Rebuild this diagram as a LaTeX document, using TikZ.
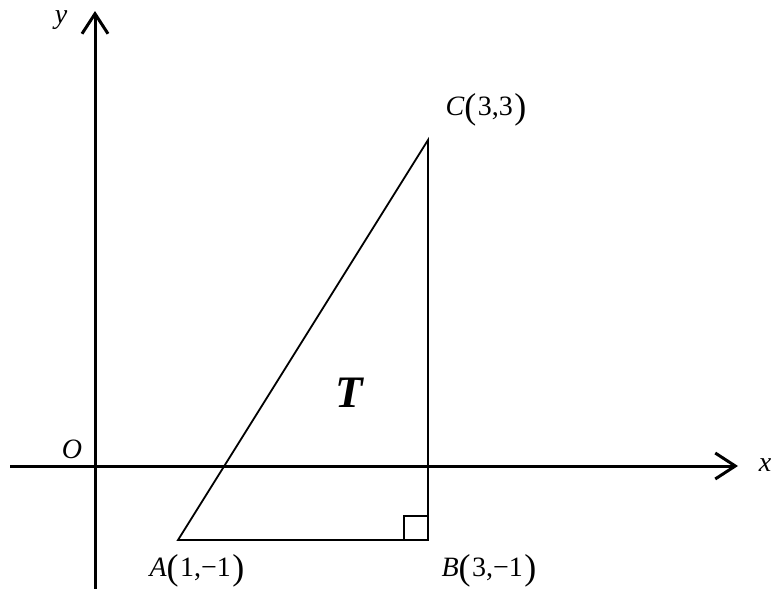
\documentclass[tikz,border=0pt]{standalone}
\usepackage{fontspec}
\setmainfont{Liberation Serif}
\usetikzlibrary{arrows.meta}
\newcommand{\bigp}[1]{\raisebox{-0.12em}{\fontsize{36}{36}\selectfont (}\kern1.5pt#1\kern1.5pt\raisebox{-0.12em}{\fontsize{36}{36}\selectfont )}}
\begin{document}
\begin{tikzpicture}[x=1pt,y=-1pt,
  axis/.style={line width=3pt,-{Straight Barb[length=20pt,width=26pt,line width=3pt]}},
  tri/.style={line width=1.8pt},
  lbl/.style={font=\fontsize{28}{30}\selectfont, inner sep=0pt}]
\useasboundingbox (0,0) rectangle (774,589);
\coordinate (xs) at (10,466);
\coordinate (xe) at (738,466);
\coordinate (ys) at (95,589);
\coordinate (ye) at (95,11);
\draw[axis] (xs) -- (xe);
\draw[axis] (ys) -- (ye);
\coordinate (A) at (178,540);
\coordinate (B) at (428,540);
\coordinate (C) at (428,140);
\draw[tri, line join=miter] (A) -- (B) -- (C) -- cycle;
\draw[line width=1.5pt] (404,540) -- (404,516) -- (428,516);
\node[lbl] (lA) at (197,571) {\textit{A}\bigp{1,−1}};
\node[lbl] (lB) at (489,571) {\textit{B}\bigp{3,−1}};
\node[lbl] (lC) at (486,110) {\textit{C}\bigp{3,3}};
\node[lbl, font=\fontsize{45}{48}\selectfont\bfseries\itshape] (lT) at (349,393) {T};
\node[lbl] (lO) at (72,449) {\textit{O}};
\node[lbl] (ly) at (61,20) {\textit{y}};
\node[lbl] (lx) at (765,465) {\textit{x}};
\end{tikzpicture}
\end{document}
